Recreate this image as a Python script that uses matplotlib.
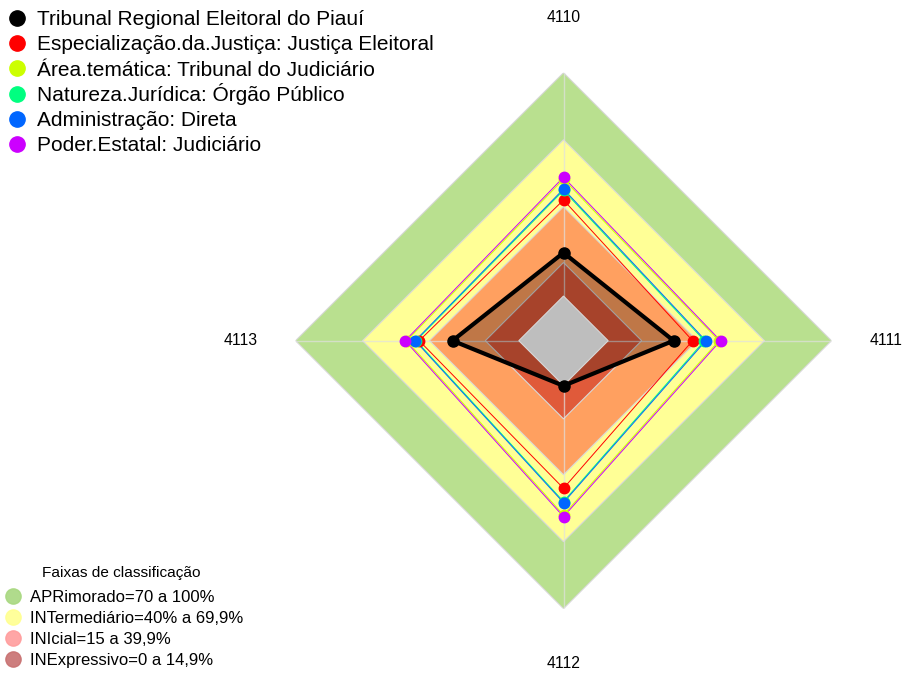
import numpy as np
import matplotlib
matplotlib.use("Agg")
import matplotlib.pyplot as plt
from matplotlib.lines import Line2D

plt.rcParams['font.family'] = ['Liberation Sans', 'DejaVu Sans']

# ---- data ----
axis_labels = ["4110", "4111", "4112", "4113"]
series_names = [
    "Tribunal Regional Eleitoral do Piauí",
    "Especialização.da.Justiça: Justiça Eleitoral",
    "Área.temática: Tribunal do Judiciário",
    "Natureza.Jurídica: Órgão Público",
    "Administração: Direta",
    "Poder.Estatal: Judiciário",
]
tribunal = [19.4, 29.3, 0.2, 29.7]
especializacao = [43.0, 37.8, 46.1, 44.6]
area_tematica = [52.3, 49.6, 58.0, 50.2]
natureza = [47.3, 43.1, 52.0, 46.0]
administracao = [47.9, 43.7, 52.5, 46.4]
poder = [53.2, 50.3, 58.8, 50.9]
series_values = [tribunal, especializacao, area_tematica, natureza, administracao, poder]
series_colors = ["#000000", "#FF0000", "#CCFF00", "#00FF80", "#0066FF", "#CC00FF"]

band_title = "Faixas de classificação"
band_names = ["APRimorado=70 a 100%", "INTermediário=40% a 69,9%",
              "INIcial=15 a 39,9%", "INExpressivo=0 a 14,9%"]
band_limits = [100, 70, 40, 15, 0]
band_fill = ["#B9E08F", "#FFFF96", "#FFA060", "#E05A3A", "#BEBEBE"]
band_legend_colors = ["#A8D880", "#FFFF90", "#FF9C9C", "#C87070"]
r_min, r_max = -20, 100

# ---- figure ----
W, H = 905, 675
fig = plt.figure(figsize=(W / 100, H / 100), dpi=100)
cx, cy, R = 563.5, 340.7, 268
ax = fig.add_axes([(cx - R) / W, (H - cy - R) / H, 2 * R / W, 2 * R / H], projection="polar")
ax.set_theta_offset(np.pi / 2)
ax.set_theta_direction(-1)
ax.set_ylim(r_min, r_max)
ax.grid(False)
ax.set_xticks([])
ax.set_yticks([])
ax.spines["polar"].set_visible(False)
ax.patch.set_alpha(0)

n = len(axis_labels)
theta = np.arange(n) * 2 * np.pi / n
theta_c = np.append(theta, theta[0])

# bands
for i, (lim, col) in enumerate(zip(band_limits, band_fill)):
    z = 1 if i < 4 else 4
    ax.fill(theta_c, [lim] * (n + 1), color=col, edgecolor="#D8D8D8", lw=0.8, zorder=z)

# spokes
for t in theta:
    ax.plot([t, t], [r_min, r_max], color="#E0E0E0", lw=1.0, alpha=0.7, zorder=2)

# series
for k, (vals, col) in enumerate(zip(series_values, series_colors)):
    v = np.append(vals, vals[0])
    if k == 0:
        ax.fill(theta_c, v, color="black", alpha=0.25, lw=0, zorder=3)
        ax.plot(theta_c, v, color=col, lw=3.0, zorder=6)
        ax.plot(theta, vals, "o", color=col, ms=8, zorder=7)
    else:
        ax.plot(theta_c, v, color=col, lw=0.7, zorder=5 + k * 0.1)
        ax.plot(theta, vals, "o", color=col, ms=7.5, zorder=7 + k * 0.1)

# axis labels
for t, lab in zip(theta, axis_labels):
    ax.text(t, 124.5, lab, ha="center", va="center", fontsize=11.3)

# series legend (manual, evenly spaced rows)
for i, (name, col) in enumerate(zip(series_names, series_colors)):
    yc = 18 + 25.2 * i
    fig.add_artist(Line2D([17 / W], [1 - yc / H], transform=fig.transFigure, marker="o",
                          ls="", color=col, ms=11))
    fig.text(37 / W, 1 - (yc + 7.3) / H, name, ha="left", va="baseline", fontsize=15)

# band legend
fig.text(121 / W, 1 - (572 + 5.5) / H, band_title, ha="center", va="baseline", fontsize=11.1)
for i, (name, col) in enumerate(zip(band_names, band_legend_colors)):
    yc = 596 + 21 * i
    fig.add_artist(Line2D([13 / W], [1 - yc / H], transform=fig.transFigure, marker="o",
                          ls="", markerfacecolor=col, markeredgecolor=col, alpha=0.9, ms=11))
    fig.text(30 / W, 1 - (yc + 5.9) / H, name, ha="left", va="baseline", fontsize=12)

fig.savefig("out.png", dpi=100)
